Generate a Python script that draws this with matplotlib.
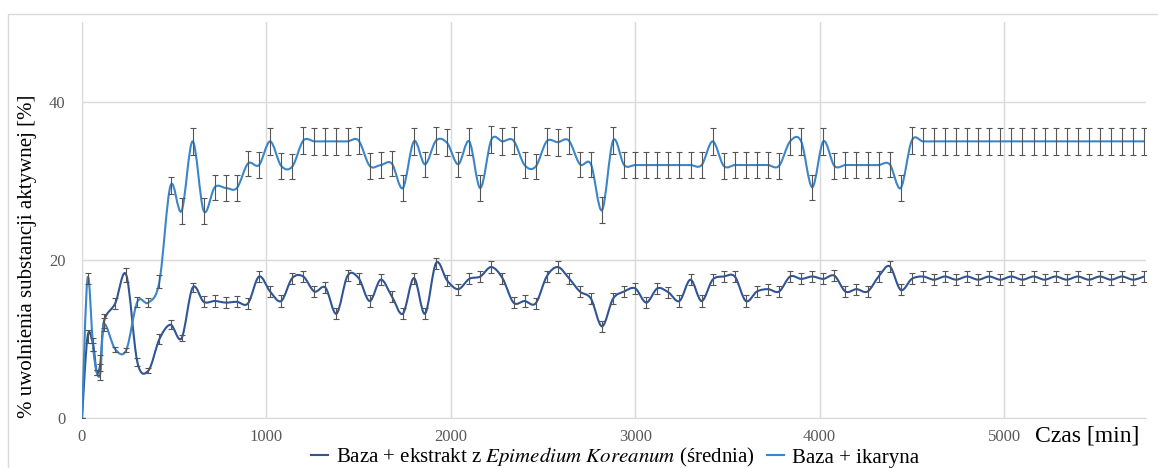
import numpy as np
import matplotlib
matplotlib.use("Agg")
import matplotlib.pyplot as plt
from matplotlib.path import Path
from matplotlib.patches import PathPatch, Rectangle
from matplotlib.lines import Line2D

# czas pobrania probki [min]
time_min = [0, 30, 60, 80, 100, 120,
            180, 240, 300, 360, 420, 480, 540, 600, 660, 720,
            780, 840, 900, 960, 1020, 1080, 1140, 1200, 1260, 1320,
            1380, 1440, 1500, 1560, 1620, 1680, 1740, 1800, 1860, 1920,
            1980, 2040, 2100, 2160, 2220, 2280, 2340, 2400, 2460, 2520,
            2580, 2640, 2700, 2760, 2820, 2880, 2940, 3000, 3060, 3120,
            3180, 3240, 3300, 3360, 3420, 3480, 3540, 3600, 3660, 3720,
            3780, 3840, 3900, 3960, 4020, 4080, 4140, 4200, 4260, 4320,
            4380, 4440, 4500, 4560, 4620, 4680, 4740, 4800, 4860, 4920,
            4980, 5040, 5100, 5160, 5220, 5280, 5340, 5400, 5460, 5520,
            5580, 5640, 5700, 5760]

# Baza + ekstrakt z Epimedium Koreanum (srednia)
ekstrakt = [0.0, 10.3, 9.3, 5.8, 7.0, 12.3,
            14.5, 18.1, 7.1, 6.0, 10.0, 11.8, 10.1, 16.5, 14.7, 14.8,
            14.6, 14.7, 14.5, 17.9, 16.0, 14.8, 17.7, 17.9, 16.0, 16.5,
            13.2, 18.0, 17.7, 14.8, 17.5, 15.4, 13.2, 17.7, 13.2, 19.6,
            17.4, 16.3, 17.6, 17.9, 19.1, 17.7, 14.6, 14.8, 14.5, 17.9,
            19.1, 17.7, 16.0, 15.1, 11.6, 15.1, 16.0, 16.4, 14.6, 16.4,
            15.9, 14.8, 17.5, 14.8, 17.5, 17.9, 17.9, 14.8, 16.0, 16.3,
            16.0, 17.9, 17.6, 17.9, 17.6, 18.0, 16.0, 16.3, 16.0, 17.9,
            19.2, 16.2, 17.6, 17.9, 17.5, 17.9, 17.5, 17.9, 17.5, 17.9,
            17.5, 17.9, 17.5, 17.9, 17.5, 17.9, 17.5, 17.9, 17.5, 17.9,
            17.5, 17.9, 17.5, 17.9]
ekstrakt_err = [0.0, 0.8, 0.8, 0.3, 1.0, 0.9,
                0.7, 0.9, 0.5, 0.3, 0.6, 0.6, 0.4, 0.6, 0.7, 0.7,
                0.7, 0.7, 0.7, 0.7, 0.7, 0.7, 0.7, 0.7, 0.7, 0.7,
                0.7, 0.7, 0.7, 0.7, 0.7, 0.7, 0.7, 0.7, 0.7, 0.7,
                0.7, 0.7, 0.7, 0.7, 0.7, 0.7, 0.7, 0.7, 0.7, 0.7,
                0.7, 0.7, 0.7, 0.7, 0.7, 0.7, 0.7, 0.7, 0.7, 0.7,
                0.7, 0.7, 0.7, 0.7, 0.7, 0.7, 0.7, 0.7, 0.7, 0.7,
                0.7, 0.7, 0.7, 0.7, 0.7, 0.7, 0.7, 0.7, 0.7, 0.7,
                0.7, 0.7, 0.7, 0.7, 0.7, 0.7, 0.7, 0.7, 0.7, 0.7,
                0.7, 0.7, 0.7, 0.7, 0.7, 0.7, 0.7, 0.7, 0.7, 0.7,
                0.7, 0.7, 0.7, 0.7]

# Baza + ikaryna
ikaryna = [0.0, 17.7, 9.0, 5.8, 5.8, 11.8,
           8.7, 8.6, 14.7, 14.6, 17.3, 29.4, 26.2, 35.0, 26.2, 29.2,
           29.1, 29.1, 32.2, 32.0, 35.0, 31.9, 31.8, 35.1, 35.0, 35.0,
           35.0, 35.0, 35.1, 31.9, 32.0, 32.2, 29.1, 35.0, 32.1, 35.1,
           34.8, 32.1, 35.0, 29.1, 35.2, 35.0, 35.1, 32.0, 31.8, 35.0,
           34.9, 35.1, 32.1, 32.1, 26.3, 35.1, 32.0, 32.0, 32.0, 32.0,
           32.0, 32.0, 32.0, 32.0, 35.0, 31.9, 32.0, 32.0, 32.0, 32.0,
           31.9, 35.0, 35.0, 29.2, 35.0, 31.9, 32.0, 32.0, 32.0, 32.0,
           32.1, 29.1, 35.1, 35.0, 35.0, 35.0, 35.0, 35.0, 35.0, 35.0,
           35.0, 35.0, 35.0, 35.0, 35.0, 35.0, 35.0, 35.0, 35.0, 35.0,
           35.0, 35.0, 35.0, 35.0]
ikaryna_err = [0.0, 0.7, 0.5, 0.3, 1.0, 0.8,
               0.3, 0.3, 0.6, 0.6, 0.8, 1.1, 1.6, 1.7, 1.6, 1.6,
               1.6, 1.6, 1.6, 1.6, 1.7, 1.6, 1.6, 1.7, 1.7, 1.7,
               1.7, 1.7, 1.7, 1.6, 1.6, 1.6, 1.6, 1.7, 1.6, 1.7,
               1.7, 1.6, 1.7, 1.6, 1.7, 1.7, 1.7, 1.6, 1.6, 1.7,
               1.7, 1.7, 1.6, 1.6, 1.6, 1.7, 1.6, 1.6, 1.6, 1.6,
               1.6, 1.6, 1.6, 1.6, 1.7, 1.6, 1.6, 1.6, 1.6, 1.6,
               1.6, 1.7, 1.7, 1.6, 1.7, 1.6, 1.6, 1.6, 1.6, 1.6,
               1.6, 1.6, 1.7, 1.7, 1.7, 1.7, 1.7, 1.7, 1.7, 1.7,
               1.7, 1.7, 1.7, 1.7, 1.7, 1.7, 1.7, 1.7, 1.7, 1.7,
               1.7, 1.7, 1.7, 1.7]

labels = ['Baza + ekstrakt z $\\it{Epimedium\\ Koreanum}$ (średnia)',
          'Baza + ikaryna']
colors = ['#2f5597', '#3b86c8']


def smooth_path(x, y):
    # gladka linia jak w Excelu (krzywe Beziera przez punkty pomiarowe)
    pts = np.column_stack([np.asarray(x, float), np.asarray(y, float)])
    prev = np.vstack([pts[:1], pts[:-1]])
    nxt = np.vstack([pts[1:], pts[-1:]])
    tang = (nxt - prev) / 6.0
    verts = [pts[0]]
    codes = [Path.MOVETO]
    for i in range(len(pts) - 1):
        verts += [pts[i] + tang[i], pts[i + 1] - tang[i + 1], pts[i + 1]]
        codes += [Path.CURVE4] * 3
    return Path(verts, codes)


plt.rcParams['font.family'] = ['Liberation Serif', 'DejaVu Serif']
plt.rcParams['mathtext.fontset'] = 'stix'

fig = plt.figure(figsize=(11.58, 4.68), dpi=100)
ax = fig.add_axes([82 / 1158, 50 / 468, (1146 - 82) / 1158, 396 / 468])

for vals, errs, col in [(ekstrakt, ekstrakt_err, colors[0]),
                        (ikaryna, ikaryna_err, colors[1])]:
    ax.add_patch(PathPatch(smooth_path(time_min, vals), facecolor='none',
                           edgecolor=col, lw=1.5, zorder=3))
    ax.errorbar(time_min, vals, yerr=errs, fmt='none', ecolor='#555555',
                elinewidth=0.8, capsize=2.5, capthick=0.8, zorder=4)

ax.set_xlim(0, 5770)
ax.set_ylim(0, 50.1)
ax.set_xticks([0, 1000, 2000, 3000, 4000, 5000])
ax.set_yticks([0, 20, 40])
ax.grid(color='#d9d9d9', lw=1)
ax.set_axisbelow(True)
for s in ['top', 'right']:
    ax.spines[s].set_visible(False)
ax.spines['bottom'].set_color('#d9d9d9')
ax.spines['left'].set_color('#d9d9d9')
ax.tick_params(length=0, labelcolor='#595959', labelsize=12)
ax.tick_params(axis='x', pad=8)
ax.tick_params(axis='y', pad=12)

fig.text(28 / 1158, 1 - 256 / 468, '% uwolnienia substancji aktywnej [%]',
         rotation=90, ha='center', va='center', fontsize=15)
fig.text(1035 / 1158, 1 - 436 / 468, 'Czas [min]', ha='left', va='center',
         fontsize=17)

handles = [Line2D([], [], color=c, lw=1.5) for c in colors]
fig.legend(handles, labels, loc='center', bbox_to_anchor=(615 / 1158, 1 - 457.5 / 468),
           ncol=2, frameon=False, fontsize=15, handlelength=0.8,
           handletextpad=0.4, columnspacing=0.6, borderaxespad=0, borderpad=0)

fig.add_artist(Rectangle((8 / 1158, -0.5), 2, 1.5 - 14 / 468, transform=fig.transFigure,
                         fill=False, ec='#d9d9d9', lw=1))

fig.savefig('out.png', dpi=100)
